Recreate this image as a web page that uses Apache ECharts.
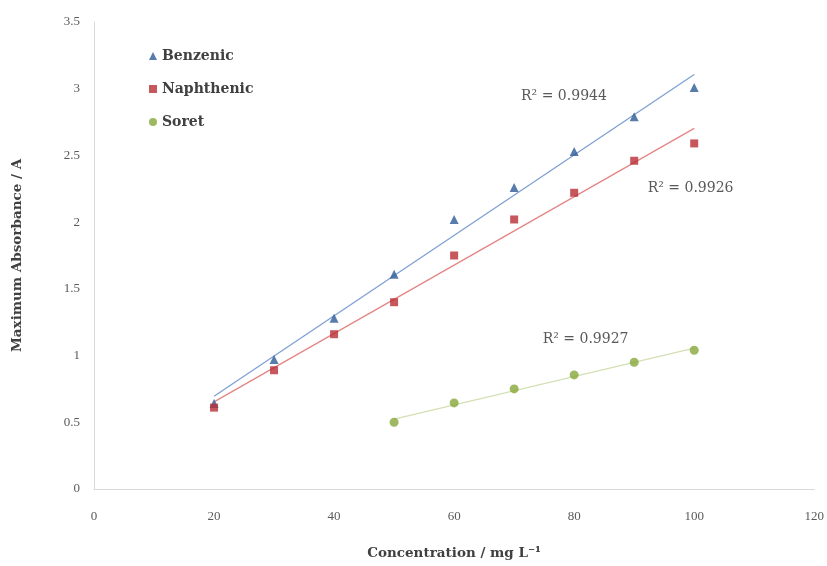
<!DOCTYPE html>
<html>
<head>
<meta charset="utf-8">
<script src="https://cdn.jsdelivr.net/npm/echarts@6/dist/echarts.min.js"></script>
<style>html,body{margin:0;padding:0;background:#fff}#c{width:827px;height:566px}</style>
</head>
<body>
<div id="c"></div>
<script>
var benzX = [20, 30, 40, 50, 60, 70, 80, 90, 100];
var benzY = [0.64, 0.97, 1.28, 1.61, 2.02, 2.26, 2.53, 2.79, 3.01];
var naphX = [20, 30, 40, 50, 60, 70, 80, 90, 100];
var naphY = [0.61, 0.89, 1.16, 1.40, 1.75, 2.02, 2.22, 2.46, 2.59];
var soretX = [50, 60, 70, 80, 90, 100];
var soretY = [0.50, 0.645, 0.75, 0.855, 0.95, 1.04];
var r2Labels = ['R\u00b2 = 0.9944', 'R\u00b2 = 0.9926', 'R\u00b2 = 0.9927'];
var r2Anchors = [[78.3, 2.94], [99.4, 2.25], [81.9, 1.12]];
var seriesNames = ['Benzenic', 'Naphthenic', 'Soret'];
var xTicks = [0, 20, 40, 60, 80, 100, 120];
var yTicks = [0, 0.5, 1, 1.5, 2, 2.5, 3, 3.5];

function pairs(xs, ys) { return xs.map(function (x, i) { return [x, ys[i]]; }); }
function fit(xs, ys) {
  var n = xs.length, mx = 0, my = 0;
  for (var i = 0; i < n; i++) { mx += xs[i]; my += ys[i]; }
  mx /= n; my /= n;
  var sxy = 0, sxx = 0;
  for (i = 0; i < n; i++) { sxy += (xs[i] - mx) * (ys[i] - my); sxx += (xs[i] - mx) * (xs[i] - mx); }
  var b = sxy / sxx, a = my - b * mx;
  var x0 = xs[0], x1 = xs[n - 1];
  return [[x0, a + b * x0], [x1, a + b * x1]];
}

var serif = '"Liberation Serif", "DejaVu Serif", serif';
var wideSerif = '"DejaVu Serif", "Liberation Serif", serif';
var markerColors = ['#2d5a96', '#b72d35', '#86a83a'];
var lineColors = ['#7f9fd3', '#e58585', '#d3e0b3'];
var symbols = ['triangle', 'rect', 'circle'];
var dataSets = [[benzX, benzY], [naphX, naphY], [soretX, soretY]];

var series = [];
dataSets.forEach(function (d, i) {
  series.push({
    name: seriesNames[i] + ' trend', type: 'line', data: fit(d[0], d[1]),
    symbol: 'none', lineStyle: { color: lineColors[i], width: 1.3 }, z: 1, silent: true,
    markPoint: {
      symbol: 'circle', symbolSize: 0,
      data: [{ coord: r2Anchors[i], value: r2Labels[i] }],
      label: { show: true, position: 'inside', formatter: r2Labels[i], color: '#595959', fontFamily: wideSerif, fontSize: 14 }
    }
  });
});
dataSets.forEach(function (d, i) {
  series.push({
    name: seriesNames[i], type: 'scatter', data: pairs(d[0], d[1]),
    symbol: symbols[i], symbolSize: i === 1 ? 8 : 9,
    itemStyle: { color: markerColors[i] }, z: 3
  });
});

var chart = echarts.init(document.getElementById('c'));
chart.setOption({
  animation: false,
  backgroundColor: '#fff',
  grid: { left: 94, right: 12, top: 22, bottom: 77 },
  legend: {
    data: seriesNames, orient: 'vertical', left: 144, top: 44, itemGap: 19,
    itemWidth: 8, itemHeight: 8,
    textStyle: { fontFamily: wideSerif, fontWeight: 'bold', fontSize: 14, color: '#404040' }
  },
  xAxis: {
    type: 'value', min: 0, max: 120, interval: 20,
    name: 'Concentration / mg L\u207b\u00b9', nameLocation: 'middle', nameGap: 57,
    nameTextStyle: { fontFamily: wideSerif, fontWeight: 'bold', fontSize: 13.5, color: '#404040' },
    axisLine: { lineStyle: { color: '#d9d9d9' } }, axisTick: { show: false }, splitLine: { show: false },
    axisLabel: { margin: 21, fontFamily: serif, fontSize: 13, color: '#595959' }
  },
  yAxis: {
    type: 'value', min: 0, max: 3.5, interval: 0.5,
    name: 'Maximum Absorbance / A', nameLocation: 'middle', nameGap: 70,
    nameTextStyle: { fontFamily: wideSerif, fontWeight: 'bold', fontSize: 13.5, color: '#404040' },
    axisLine: { show: true, lineStyle: { color: '#d9d9d9' } }, axisTick: { show: false }, splitLine: { show: false },
    axisLabel: { margin: 14, fontFamily: serif, fontSize: 13, color: '#595959' }
  },
  series: series
});
</script>
</body>
</html>
